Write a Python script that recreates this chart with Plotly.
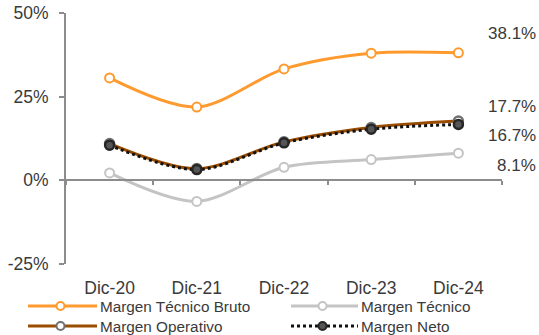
import plotly.graph_objects as go

# Periods and margin series (percent)
periods = ["Dic-20", "Dic-21", "Dic-22", "Dic-23", "Dic-24"]
margen_tecnico_bruto = [30.6, 21.9, 33.3, 38.0, 38.1]
margen_tecnico = [2.2, -6.3, 3.9, 6.2, 8.1]
margen_operativo = [11.0, 3.5, 11.5, 15.8, 17.7]
margen_neto = [10.5, 3.2, 11.2, 15.3, 16.7]
y_ticks = [-25, 0, 25, 50]

FONT = "Liberation Sans, Arial, sans-serif"
TXT = "#3a3a3a"
AXIS = "#8c8c8c"

ORANGE = "#FF9A2E"
GREY = "#C4C4C4"
BROWN = "#9A4D00"
BLACK = "#111111"

# plot-area geometry in pixels
W, H = 539, 335
L, R, T, B = 66, 37, 13, 71
PW, PH = W - L - R, H - T - B


def px_x(x):
    return (x - L) / PW


def px_y(y):
    return (H - B - y) / PH


series = [
    ("Margen Técnico Bruto", margen_tecnico_bruto, ORANGE, "solid",
     dict(color="white", line=dict(color=ORANGE, width=2))),
    ("Margen Técnico", margen_tecnico, GREY, "solid",
     dict(color="white", line=dict(color=GREY, width=2))),
    ("Margen Operativo", margen_operativo, BROWN, "solid",
     dict(color="white", line=dict(color="#707070", width=2.5))),
    ("Margen Neto", margen_neto, BLACK, "dot",
     dict(color="#555555", line=dict(color="#262626", width=2.5))),
]

fig = go.Figure()
for name, vals, color, dash, mk in series:
    fig.add_trace(go.Scatter(
        x=periods, y=vals, name=name, mode="lines+markers",
        line=dict(color=color, width=3, dash=dash, shape="spline", smoothing=0.9),
        marker=dict(symbol="circle", size=9, **mk),
        showlegend=False, hoverinfo="skip",
    ))

# carrier trace so the zero-line axis knows the categories
fig.add_trace(go.Scatter(x=periods, y=margen_neto, xaxis="x2", mode="lines",
                         opacity=0, showlegend=False, hoverinfo="skip"))

# end-of-series value labels
label_offsets = {
    "Margen Técnico Bruto": 19,
    "Margen Técnico": -12,
    "Margen Operativo": 15,
    "Margen Neto": -11,
}
annotations = []
for name, vals, color, dash, mk in series:
    annotations.append(dict(
        x=periods[-1], y=vals[-1], xref="x", yref="y",
        text=f"{vals[-1]:.1f}%", showarrow=False,
        xanchor="right", yanchor="middle", xshift=80, yshift=label_offsets[name],
        font=dict(family=FONT, size=17, color=TXT),
    ))

# hand-built legend: two columns, two rows
legend_cells = [
    (28, 97, 306), (291, 358, 306),
    (28, 97, 326), (291, 358, 326),
]
shapes = []
for (x0, x1, yy), (name, vals, color, dash, mk) in zip(legend_cells, series):
    shapes.append(dict(
        type="line", xref="paper", yref="paper",
        x0=px_x(x0), x1=px_x(x1), y0=px_y(yy), y1=px_y(yy),
        line=dict(color=color, width=3, dash=dash),
    ))
    xc = px_x((x0 + x1) / 2 - 2)
    shapes.append(dict(
        type="circle", xref="paper", yref="paper",
        xsizemode="pixel", ysizemode="pixel",
        xanchor=xc, yanchor=px_y(yy), x0=-4, x1=4, y0=-4, y1=4,
        fillcolor=mk["color"], line=dict(color=mk["line"]["color"], width=2),
    ))
    annotations.append(dict(
        x=px_x(x1 + 1), y=px_y(yy), xref="paper", yref="paper",
        text=name, showarrow=False, xanchor="left", yanchor="middle",
        font=dict(family=FONT, size=15.3, color=TXT),
    ))

fig.update_layout(
    template="none",
    width=W, height=H,
    margin=dict(l=L, r=R, t=T, b=B, autoexpand=False),
    paper_bgcolor="white", plot_bgcolor="white",
    font=dict(family=FONT, color=TXT),
    showlegend=False,
    xaxis=dict(
        type="category", categoryorder="array", categoryarray=periods,
        range=[-0.5, 4.5], showline=False, showgrid=False, zeroline=False,
        ticks="outside", ticklen=8, tickcolor="rgba(0,0,0,0)",
        tickfont=dict(family=FONT, size=17.5, color=TXT), automargin=False,
    ),
    xaxis2=dict(
        type="category", categoryorder="array", categoryarray=periods,
        range=[-0.5, 4.5], overlaying="x", anchor="free", position=1 / 3,
        showline=True, linecolor=AXIS, linewidth=2,
        ticks="outside", ticklen=4, tickwidth=2, tickcolor=AXIS,
        tickson="boundaries", showticklabels=False, showgrid=False, zeroline=False,
        automargin=False,
    ),
    yaxis=dict(
        range=[-25, 50], tickvals=y_ticks, ticktext=[f"{v}%" for v in y_ticks],
        showline=True, linecolor=AXIS, linewidth=2,
        ticks="outside", ticklen=5, tickwidth=2, tickcolor=AXIS,
        ticklabelstandoff=7,
        showgrid=False, zeroline=False, automargin=False,
        tickfont=dict(family=FONT, size=17.5, color=TXT),
    ),
    shapes=shapes,
    annotations=annotations,
)

fig.write_html("out.html")
